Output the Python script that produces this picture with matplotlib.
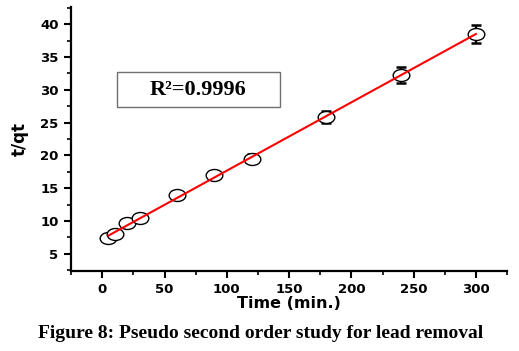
import numpy as np
import matplotlib
matplotlib.use("Agg")
import matplotlib.pyplot as plt
from matplotlib.path import Path
from matplotlib.patches import Rectangle
from matplotlib.ticker import MultipleLocator

# data
time_min = [5, 10, 20, 30, 60, 90, 120, 180, 240, 300]
t_qt = [7.4, 8.0, 9.7, 10.4, 13.9, 17.0, 19.5, 25.9, 32.2, 38.5]
t_qt_err = [0.4, 0.4, 0.4, 0.4, 0.4, 0.6, 0.7, 0.9, 1.2, 1.4]
r2_text = "R\u00b2=0.9996"

# linear fit (pseudo second order)
slope, intercept = np.polyfit(time_min, t_qt, 1)
xfit = np.array([min(time_min), max(time_min)])
yfit = slope * xfit + intercept

# open ellipse marker
circ = Path.unit_circle()
ellipse = Path(circ.vertices * np.array([1.0, 0.72]), circ.codes)

fig = plt.figure(figsize=(5.19, 3.51), dpi=100)
ax = fig.add_axes([0.137, 0.228, 0.840, 0.752])

ax.errorbar(time_min, t_qt, yerr=t_qt_err, fmt="none", ecolor="black",
            elinewidth=1.6, capsize=3.5, capthick=1.8, zorder=2)
ax.plot(time_min, t_qt, linestyle="none", marker=ellipse, markersize=12,
        markerfacecolor="white", markeredgecolor="black", markeredgewidth=1.0, zorder=3)
ax.plot(xfit, yfit, color="red", linewidth=1.5, zorder=4)

ax.set_xlim(-25, 325)
ax.set_ylim(2.4, 42.6)
ax.xaxis.set_major_locator(MultipleLocator(50))
ax.xaxis.set_minor_locator(MultipleLocator(25))
ax.yaxis.set_major_locator(MultipleLocator(5))
ax.yaxis.set_minor_locator(MultipleLocator(2.5))
ax.set_yticks([5, 10, 15, 20, 25, 30, 35, 40])
ax.set_xticks([0, 50, 100, 150, 200, 250, 300])

for s in ["top", "right"]:
    ax.spines[s].set_visible(False)
for s in ["left", "bottom"]:
    ax.spines[s].set_linewidth(1.6)

ax.tick_params(which="major", length=5, width=1.5, direction="out", pad=4)
ax.tick_params(which="minor", length=3, width=1.2, direction="out")
for lab in ax.get_xticklabels() + ax.get_yticklabels():
    lab.set_fontfamily("DejaVu Sans")
    lab.set_fontweight("heavy")
    lab.set_fontsize(9.5)

ax.set_xlabel("Time (min.)", fontfamily="DejaVu Sans", fontweight="bold",
              fontsize=11.5, labelpad=0)
ax.set_ylabel("t/qt", fontfamily="DejaVu Sans", fontweight="bold",
              fontsize=12, labelpad=8)

# R^2 box
ax.add_patch(Rectangle((0.1055, 0.621), 0.374, 0.1326, transform=ax.transAxes,
                       facecolor="white", edgecolor="#707070", linewidth=1.0, zorder=5))
ax.text(0.292, 0.686, r2_text, transform=ax.transAxes, ha="center", va="center",
        fontfamily="Liberation Serif", fontweight="bold", fontsize=16, zorder=6)

fig.text(0.503, 0.051, "Figure 8: Pseudo second order study for lead removal",
         ha="center", va="center", fontfamily="Liberation Serif",
         fontweight="bold", fontsize=14)

fig.savefig("out.png", dpi=100)
